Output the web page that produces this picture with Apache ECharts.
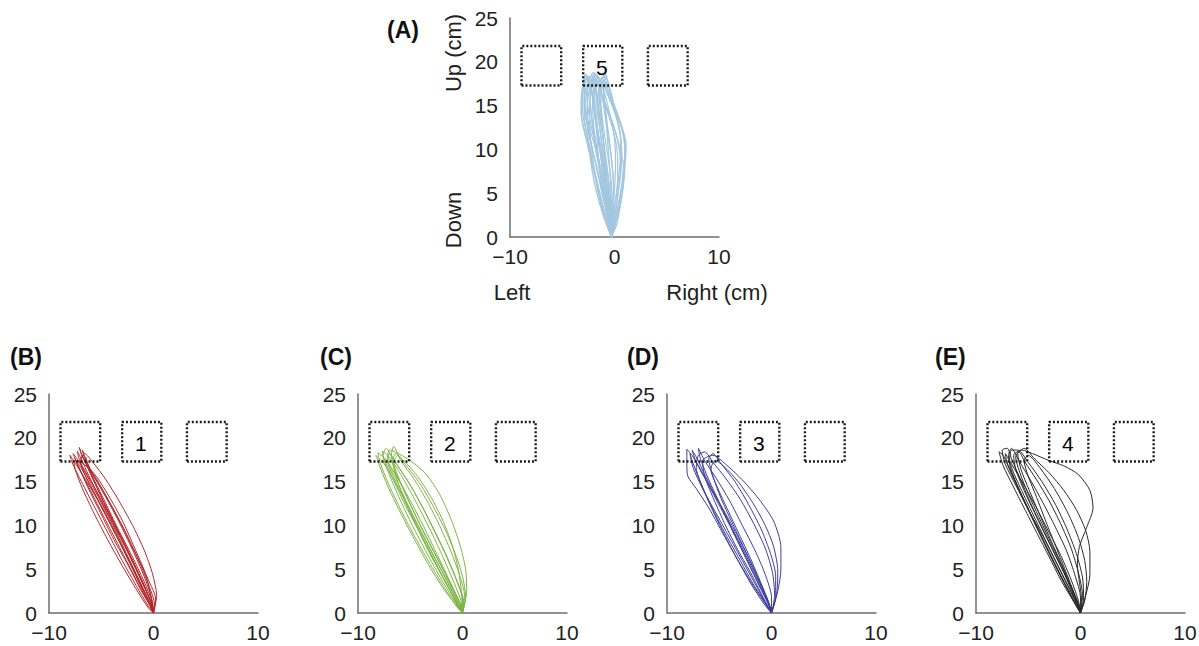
<!DOCTYPE html>
<html><head><meta charset="utf-8">
<script src="https://cdn.jsdelivr.net/npm/echarts@6/dist/echarts.min.js"></script>
<style>html,body{margin:0;padding:0;background:#fff}#c{width:1199px;height:646px}</style>
</head><body><div id="c"></div>
<script>
// ---- data ----
const panelLetters = ['(A)', '(B)', '(C)', '(D)', '(E)'];
const targetLabels = ['5', '1', '2', '3', '4'];
const yTicks = [0, 5, 10, 15, 20, 25];
const xTicks = [-10, 0, 10];
const boxX = [[-8.9, -5.1], [-3.0, 0.75], [3.2, 7.0]];
const boxY = [17.3, 21.8];
const targetLabelPos = [-1.2, 19.4];

const tracesA = [
 [[-0.2,0],[-0.6,2.0],[-1.1,4.5],[-1.6,7.5],[-2.2,10.5],[-2.7,13.5],[-2.9,16.0],[-2.7,18.0],[-2.2,18.4],[-1.8,16.5],[-1.4,13.5],[-1.0,10.5],[-0.7,7.5],[-0.4,4.5],[-0.2,2.0],[-0.2,0]],
 [[-0.3,0],[-0.1,2.5],[0.2,5.0],[0.5,8.0],[0.6,11.0],[0.2,13.5],[-0.5,15.8],[-1.2,17.6],[-1.6,18.2],[-1.9,16.8],[-1.8,14.0],[-1.5,11.0],[-1.2,8.0],[-0.9,5.0],[-0.5,2.2],[-0.3,0]],
 [[-0.3,0],[0.2,2.2],[0.6,4.8],[0.9,7.6],[1.1,9.8],[0.7,12.4],[-0.1,14.8],[-0.8,16.8],[-1.0,18.0],[-1.3,17.0],[-1.3,14.6],[-1.1,11.6],[-0.9,8.6],[-0.7,5.6],[-0.5,2.8],[-0.3,0]],
 [[-0.3,0],[-0.9,2.2],[-1.5,5.0],[-2.0,8.0],[-2.5,11.0],[-3.0,13.8],[-3.1,16.4],[-2.8,18.4],[-2.4,17.6],[-2.3,15.0],[-2.0,12.0],[-1.6,9.0],[-1.2,6.0],[-0.8,3.0],[-0.3,0]],
 [[-0.3,0],[-0.4,2.4],[-0.7,5.2],[-1.1,8.4],[-1.5,11.4],[-1.9,14.4],[-2.2,17.0],[-2.0,18.6],[-1.5,18.0],[-1.1,15.4],[-0.7,12.2],[-0.3,9.0],[-0.1,6.0],[-0.1,3.0],[-0.3,0]],
 [[-0.3,0],[0.0,2.0],[0.3,4.6],[0.6,7.2],[0.7,9.8],[0.5,12.2],[0.0,14.6],[-0.6,16.6],[-1.0,18.5],[-1.4,17.8],[-1.6,15.6],[-1.7,12.8],[-1.6,9.8],[-1.3,6.8],[-0.9,3.8],[-0.5,1.4],[-0.3,0]],
 [[-0.3,0],[-0.7,2.6],[-1.3,5.6],[-1.9,8.8],[-2.5,12.0],[-2.9,15.0],[-2.6,17.4],[-2.0,18.2],[-1.8,17.2],[-1.6,14.4],[-1.3,11.4],[-1.0,8.4],[-0.6,5.4],[-0.4,2.6],[-0.3,0]],
 [[-0.3,0],[-0.2,2.6],[0,5.4],[0.1,8.4],[0.0,11.2],[-0.4,13.8],[-0.9,16.2],[-1.4,18.0],[-1.8,18.6],[-2.2,17.0],[-2.4,14.2],[-2.3,11.2],[-2.0,8.2],[-1.6,5.2],[-1.0,2.4],[-0.3,0]],
 [[-0.3,0],[0.3,2.4],[0.8,5.4],[1.0,8.6],[0.9,11.2],[0.4,13.6],[-0.2,15.6],[-0.6,17.4],[-0.8,18.6],[-1.1,17.6],[-0.9,15.0],[-0.6,12.0],[-0.3,9.0],[-0.1,6.0],[-0.1,3.0],[-0.3,0]],
 [[-0.3,0],[-0.8,2.0],[-1.4,4.6],[-2.0,7.6],[-2.6,10.6],[-3.1,13.2],[-3.2,15.4],[-3.0,17.4],[-2.6,18.4],[-2.6,16.6],[-2.6,14.0],[-2.5,11.0],[-2.2,8.0],[-1.7,5.0],[-1.0,2.2],[-0.3,0]],
 [[-0.3,0],[-0.5,1.8],[-0.9,4.2],[-1.3,7.2],[-1.8,10.4],[-2.3,13.0],[-2.6,15.6],[-2.5,17.8],[-2.0,18.8],[-1.6,17.6],[-1.3,15.0],[-1.0,12.0],[-0.6,9.0],[-0.3,6.0],[-0.2,3.0],[-0.3,0]],
 [[-0.3,0],[0.1,1.8],[0.4,4.0],[0.8,6.4],[1.0,8.8],[1.0,11.0],[0.6,13.0],[0.0,15.0],[-0.4,16.8],[-0.9,18.4],[-1.2,18.0],[-1.0,16.0],[-0.8,13.2],[-0.6,10.0],[-0.4,6.8],[-0.3,3.4],[-0.3,0]],
 [[-0.2,0],[-0.3,1.6],[-0.6,3.4],[-1.0,5.8],[-1.4,8.2],[-2.0,10.8],[-2.5,13.0],[-2.8,15.2],[-2.6,16.8],[-2.3,18.2],[-1.9,17.4],[-1.7,15.6],[-1.5,13.2],[-1.2,10.6],[-0.9,8.0],[-0.6,5.4],[-0.4,2.8],[-0.2,0]],
 [[-0.3,0],[0.1,2.8],[0.4,5.8],[0.6,8.2],[0.4,10.4],[0.0,12.4],[-0.6,14.4],[-1.2,16.2],[-1.5,17.8],[-1.9,17.2],[-2.1,15.2],[-2.0,12.8],[-1.7,10.2],[-1.3,7.6],[-0.9,4.8],[-0.5,2.0],[-0.3,0]],
 [[-0.3,0],[-0.6,1.4],[-1.2,3.8],[-1.7,6.4],[-2.3,9.2],[-2.8,11.8],[-3.2,14.2],[-3.0,16.6],[-2.8,18.6],[-2.4,18.0],[-2.1,16.2],[-1.8,13.6],[-1.4,10.8],[-1.0,7.8],[-0.6,4.8],[-0.3,2.0],[-0.3,0]],
 [[-0.2,0],[0.0,1.6],[0.4,3.8],[0.7,6.0],[0.9,8.4],[1.1,10.6],[0.8,12.2],[0.3,13.8],[-0.3,15.6],[-0.7,17.0],[-1.2,18.2],[-1.5,17.2],[-1.4,15.0],[-1.2,12.6],[-1.0,10.0],[-0.8,7.2],[-0.5,4.4],[-0.3,1.6],[-0.2,0]],
 [[-0.3,0],[-0.5,2.2],[-1.0,4.8],[-1.5,7.0],[-2.0,9.4],[-2.4,11.8],[-2.6,14.2],[-2.5,16.2],[-2.1,17.8],[-1.7,16.6],[-1.5,14.6],[-1.2,12.2],[-0.9,9.6],[-0.6,7.0],[-0.4,4.4],[-0.3,2.0],[-0.3,0]],
 [[-0.3,0],[0.2,1.4],[0.5,3.2],[0.8,5.6],[0.9,7.4],[0.7,9.2],[0.2,11.6],[-0.4,13.6],[-1.0,15.6],[-1.6,17.4],[-2.0,18.4],[-2.3,17.2],[-2.3,15.0],[-2.1,12.6],[-1.8,10.0],[-1.4,7.4],[-1.0,4.8],[-0.6,2.2],[-0.3,0]],
 [[-0.3,0],[-0.7,1.8],[-1.1,3.6],[-1.6,6.0],[-2.1,8.6],[-2.6,11.4],[-2.9,13.8],[-2.9,16.0],[-2.5,17.4],[-2.1,16.0],[-1.9,13.8],[-1.6,11.2],[-1.2,8.4],[-0.8,5.6],[-0.5,3.0],[-0.3,0]],
 [[-0.2,0],[-0.1,2.0],[0.1,4.2],[0.3,6.6],[0.3,9.0],[0.0,11.6],[-0.6,14.0],[-1.2,16.0],[-1.7,17.6],[-2.1,18.0],[-2.0,16.2],[-1.8,13.8],[-1.5,11.2],[-1.2,8.6],[-0.9,6.0],[-0.6,3.4],[-0.4,1.2],[-0.2,0]]
];

const tracesB = [
 [[0,0],[-0.5,1.5],[-1.4,3.8],[-2.6,6.8],[-3.8,9.8],[-5.0,12.6],[-6.2,15.3],[-7.2,17.4],[-7.7,18.2],[-7.3,17.0],[-6.3,14.6],[-5.1,11.8],[-3.9,9.0],[-2.6,6.0],[-1.4,3.2],[-0.4,1.0],[0,0]],
 [[0,0],[-0.2,1.8],[-0.9,4.2],[-2.0,7.2],[-3.3,10.4],[-4.6,13.3],[-5.8,15.8],[-6.8,17.8],[-7.1,18.9],[-6.9,18.2],[-6.0,15.8],[-4.8,12.8],[-3.5,9.6],[-2.2,6.4],[-1.0,3.4],[-0.2,1.0],[0,0]],
 [[0,0],[0.3,2.0],[-0.1,4.5],[-0.9,7.2],[-2.0,10.0],[-3.3,12.8],[-4.6,15.3],[-5.8,17.2],[-6.6,18.2],[-7.0,17.3],[-6.5,15.6],[-5.6,13.5],[-4.5,11.0],[-3.3,8.2],[-2.0,5.0],[-0.8,2.0],[0,0]],
 [[0,0],[-0.4,1.2],[-1.3,3.4],[-2.5,6.4],[-3.9,9.6],[-5.3,12.8],[-6.7,15.6],[-7.7,17.5],[-8.0,18.0],[-7.8,17.2],[-6.9,15.0],[-5.6,12.0],[-4.3,9.0],[-3.0,6.0],[-1.6,3.0],[-0.5,0.8],[0,0]],
 [[0,0],[0.2,1.6],[-0.5,3.8],[-1.5,6.3],[-2.7,9.3],[-3.9,12.0],[-5.2,14.8],[-6.3,17.0],[-6.8,18.6],[-6.6,17.6],[-5.8,15.5],[-4.6,12.6],[-3.4,9.6],[-2.1,6.6],[-0.9,3.6],[-0.1,1.2],[0,0]],
 [[0,0],[-0.3,1.4],[-1.1,3.6],[-2.2,6.5],[-3.5,9.5],[-4.8,12.5],[-6.0,15.1],[-7.0,17.2],[-7.3,18.5],[-7.0,17.8],[-6.2,15.7],[-5.1,13.0],[-3.8,10.0],[-2.5,7.0],[-1.3,4.0],[-0.3,1.4],[0,0]],
 [[0,0],[-0.6,1.8],[-1.7,4.5],[-3.0,7.6],[-4.3,10.7],[-5.6,13.6],[-6.8,16.3],[-7.5,17.6],[-7.2,16.8],[-6.3,14.4],[-5.1,11.5],[-3.8,8.4],[-2.4,5.4],[-1.2,2.6],[-0.2,0.6],[0,0]],
 [[0,0],[0.1,1.0],[-0.4,3.0],[-1.2,5.4],[-2.3,8.2],[-3.6,11.3],[-4.9,14.0],[-6.0,16.2],[-6.5,17.8],[-6.4,17.0],[-5.6,14.8],[-4.5,12.0],[-3.3,9.2],[-2.0,6.0],[-0.9,3.2],[-0.1,0.8],[0,0]],
 [[0,0],[-0.3,2.2],[-0.8,4.6],[-1.8,7.4],[-3.0,10.6],[-4.3,13.4],[-5.6,15.8],[-6.9,17.2],[-7.6,17.4],[-7.5,16.4],[-6.8,14.2],[-5.7,11.4],[-4.4,8.4],[-3.0,5.4],[-1.7,2.8],[-0.5,0.6],[0,0]]
];

const tracesC = [
 [[0,0],[0.4,2.5],[0.3,5.0],[-0.3,8.0],[-1.2,11.0],[-2.3,13.8],[-3.6,16.0],[-5.0,17.4],[-6.3,18.3],[-7.0,18.6],[-7.2,17.5],[-6.6,15.5],[-5.6,13.0],[-4.4,10.0],[-3.0,6.6],[-1.6,3.4],[-0.4,0.8],[0,0]],
 [[0,0],[0,1.5],[-0.6,3.8],[-1.6,6.6],[-2.8,9.6],[-4.0,12.5],[-5.3,15.2],[-6.6,17.5],[-7.3,18.8],[-7.6,18.0],[-7.0,15.8],[-6.0,13.0],[-4.8,10.0],[-3.4,6.8],[-2.0,3.8],[-0.7,1.2],[0,0]],
 [[0,0],[-0.3,1.3],[-1.2,3.6],[-2.4,6.6],[-3.6,9.6],[-4.9,12.6],[-6.2,15.4],[-7.4,17.6],[-8.1,18.3],[-7.9,17.2],[-7.1,14.8],[-6.0,12.0],[-4.7,9.0],[-3.2,5.8],[-1.8,3.0],[-0.6,0.8],[0,0]],
 [[0,0],[0.2,2.0],[-0.3,4.4],[-1.1,7.0],[-2.2,10.0],[-3.4,12.8],[-4.7,15.4],[-5.9,17.4],[-6.6,19.0],[-6.8,18.0],[-6.3,16.0],[-5.3,13.2],[-4.1,10.2],[-2.8,7.2],[-1.5,4.2],[-0.4,1.4],[0,0]],
 [[0,0],[-0.2,1.6],[-1.0,4.0],[-2.1,7.0],[-3.3,10.0],[-4.6,13.0],[-5.9,15.8],[-7.0,17.8],[-7.7,18.5],[-7.5,17.6],[-6.7,15.4],[-5.6,12.6],[-4.3,9.6],[-3.0,6.5],[-1.6,3.5],[-0.5,1.0],[0,0]],
 [[0,0],[0.3,1.8],[0,4.2],[-0.7,6.8],[-1.7,9.6],[-2.9,12.4],[-4.2,15.0],[-5.5,17.0],[-6.4,18.2],[-6.7,17.2],[-6.0,15.0],[-5.0,12.4],[-3.8,9.4],[-2.5,6.4],[-1.2,3.4],[-0.2,1.0],[0,0]],
 [[0,0],[-0.4,1.0],[-1.4,3.4],[-2.6,6.2],[-3.9,9.2],[-5.2,12.2],[-6.5,15.0],[-7.6,17.2],[-8.3,18.0],[-8.0,17.0],[-7.2,14.6],[-6.0,11.6],[-4.6,8.4],[-3.1,5.2],[-1.6,2.4],[-0.4,0.6],[0,0]],
 [[0,0],[0.1,1.4],[-0.5,3.6],[-1.4,6.2],[-2.5,9.0],[-3.7,11.8],[-5.0,14.6],[-6.2,16.8],[-7.0,18.2],[-7.1,17.4],[-6.4,15.4],[-5.4,12.8],[-4.2,9.8],[-2.9,6.8],[-1.5,3.8],[-0.4,1.2],[0,0]],
 [[0,0],[-0.1,2.4],[-0.4,5.0],[-1.0,7.8],[-1.9,10.6],[-3.0,13.2],[-4.3,15.6],[-5.6,17.4],[-6.2,18.0],[-6.6,17.0],[-6.2,15.0],[-5.3,12.2],[-4.0,9.0],[-2.6,5.8],[-1.3,2.8],[-0.3,0.6],[0,0]]
];

const tracesD = [
 [[0,0],[0.6,2.5],[0.9,5.0],[0.9,7.5],[0.2,10.5],[-1.2,13.0],[-2.8,15.2],[-4.4,17.0],[-5.6,18.0],[-6.6,17.4],[-6.4,15.6],[-5.6,13.2],[-4.6,10.5],[-3.4,7.6],[-2.0,4.6],[-0.8,1.8],[0,0]],
 [[0,0],[-0.8,1.4],[-2.0,3.6],[-3.4,6.4],[-4.8,9.4],[-6.0,12.0],[-7.2,14.2],[-8.0,15.6],[-8.1,17.0],[-8.1,18.7],[-7.6,18.0],[-6.6,16.0],[-5.4,13.2],[-4.0,10.0],[-2.6,6.6],[-1.2,3.2],[-0.2,0.8],[0,0]],
 [[0,0],[0.3,2.0],[0.1,4.6],[-0.6,7.4],[-1.7,10.2],[-3.0,13.0],[-4.4,15.4],[-5.6,17.2],[-6.4,18.4],[-7.0,18.0],[-7.2,16.6],[-6.6,14.4],[-5.6,11.8],[-4.4,9.0],[-3.0,6.0],[-1.6,3.0],[-0.4,0.8],[0,0]],
 [[0,0],[-0.4,1.6],[-1.3,4.0],[-2.4,6.8],[-3.6,9.6],[-4.9,12.4],[-6.2,15.0],[-7.2,17.2],[-7.6,18.6],[-7.2,17.8],[-6.3,15.6],[-5.2,13.0],[-4.0,10.2],[-2.7,7.2],[-1.4,4.0],[-0.3,1.2],[0,0]],
 [[0,0],[0.4,1.8],[0.4,4.2],[-0.1,6.8],[-1.0,9.6],[-2.2,12.4],[-3.5,15.0],[-4.8,17.0],[-5.6,18.2],[-6.0,17.6],[-5.6,15.6],[-4.8,13.0],[-3.8,10.4],[-2.7,7.6],[-1.6,4.8],[-0.6,2.0],[0,0]],
 [[0,0],[-0.6,1.2],[-1.6,3.4],[-2.8,6.0],[-4.1,8.8],[-5.4,11.6],[-6.6,14.2],[-7.5,16.6],[-7.8,18.2],[-7.6,17.4],[-6.9,15.2],[-5.9,12.4],[-4.7,9.4],[-3.4,6.4],[-2.0,3.4],[-0.7,1.0],[0,0]],
 [[0,0],[0,1.8],[-0.6,4.4],[-1.6,7.2],[-2.8,10.0],[-4.0,12.8],[-5.3,15.4],[-6.4,17.4],[-7.0,18.8],[-6.8,17.6],[-6.0,15.2],[-4.9,12.4],[-3.7,9.4],[-2.4,6.2],[-1.2,3.2],[-0.2,0.8],[0,0]],
 [[0,0],[0.5,2.2],[0.6,4.8],[0.2,7.6],[-0.6,10.0],[-1.8,12.6],[-3.2,15.0],[-4.6,16.8],[-5.4,17.4],[-5.8,16.4],[-5.2,14.4],[-4.2,11.8],[-3.1,9.0],[-2.0,6.2],[-1.0,3.4],[-0.2,1.0],[0,0]]
];

const tracesE = [
 [[0,0],[0.1,1.5],[-0.1,3.5],[-0.3,5.5],[-0.1,7.6],[0.6,9.8],[1.2,12.0],[0.9,14.0],[-0.2,15.8],[-1.6,16.8],[-3.0,17.4],[-4.6,18.2],[-5.6,18.6],[-6.4,18.0],[-6.2,16.4],[-5.4,14.0],[-4.3,11.2],[-3.0,8.0],[-1.6,4.6],[-0.5,1.6],[0,0]],
 [[0,0],[0.5,2.0],[0.9,4.4],[0.9,7.0],[0.5,9.4],[-0.4,11.8],[-1.6,14.0],[-3.0,16.0],[-4.4,17.6],[-5.4,18.8],[-6.0,18.2],[-5.7,16.4],[-4.9,14.0],[-3.9,11.2],[-2.8,8.2],[-1.6,5.0],[-0.5,1.8],[0,0]],
 [[0,0],[-0.7,1.4],[-1.8,3.6],[-3.0,6.4],[-4.2,9.2],[-5.4,12.0],[-6.5,14.6],[-7.4,16.8],[-7.8,18.4],[-7.4,18.0],[-6.6,16.0],[-5.6,13.4],[-4.4,10.4],[-3.1,7.2],[-1.8,4.0],[-0.6,1.2],[0,0]],
 [[0,0],[0,1.8],[-0.5,4.2],[-1.3,7.0],[-2.4,9.8],[-3.6,12.6],[-4.8,15.2],[-5.9,17.4],[-6.6,18.8],[-6.9,18.0],[-6.4,16.0],[-5.4,13.4],[-4.2,10.4],[-2.9,7.2],[-1.6,4.0],[-0.4,1.2],[0,0]],
 [[0,0],[0.3,1.6],[0.2,4.0],[-0.4,6.8],[-1.3,9.6],[-2.4,12.4],[-3.7,15.0],[-5.0,17.2],[-6.0,18.6],[-6.6,18.6],[-6.8,17.2],[-6.2,15.0],[-5.2,12.4],[-4.0,9.4],[-2.7,6.2],[-1.4,3.2],[-0.3,0.8],[0,0]],
 [[0,0],[-0.4,1.2],[-1.3,3.4],[-2.5,6.2],[-3.7,9.0],[-5.0,11.8],[-6.2,14.6],[-7.2,17.0],[-7.5,18.6],[-7.0,18.8],[-6.6,17.6],[-5.8,15.4],[-4.8,12.6],[-3.6,9.6],[-2.3,6.4],[-1.0,3.2],[-0.1,0.8],[0,0]],
 [[0,0],[0.2,2.0],[-0.2,4.6],[-0.9,7.4],[-1.9,10.2],[-3.0,12.8],[-4.2,15.2],[-5.3,17.2],[-5.9,18.4],[-6.2,17.8],[-5.8,16.0],[-5.0,13.6],[-4.0,11.0],[-2.9,8.2],[-1.8,5.4],[-0.7,2.4],[0,0]],
 [[0,0],[-0.2,1.4],[-0.9,3.8],[-1.9,6.6],[-3.1,9.4],[-4.3,12.2],[-5.5,14.8],[-6.6,17.0],[-7.2,18.2],[-7.0,17.0],[-6.2,14.8],[-5.1,12.0],[-3.9,9.0],[-2.6,5.8],[-1.3,2.8],[-0.3,0.6],[0,0]],
 [[0,0],[0.4,1.4],[0.6,3.6],[0.4,6.0],[-0.2,8.6],[-1.2,11.4],[-2.5,14.2],[-3.9,16.6],[-5.0,18.0],[-5.4,17.4],[-5.0,15.6],[-4.2,13.2],[-3.3,10.4],[-2.3,7.4],[-1.3,4.4],[-0.4,1.6],[0,0]]
];

const panelTraces = [tracesA, tracesB, tracesC, tracesD, tracesE];
const panelColors = ['#a3c7df', '#b2272b', '#7db444', '#3d3d9b', '#2a2a2a'];

// ---- layout ----
const FONT = "'Liberation Sans', Arial, Helvetica, sans-serif";
const grids = [
  {left: 510, top: 18, width: 209, height: 219},
  {left: 49, top: 394, width: 209, height: 219},
  {left: 358, top: 394, width: 209, height: 219},
  {left: 667, top: 394, width: 209, height: 219},
  {left: 976, top: 394, width: 209, height: 219}
];
const letterPos = [[387, 18], [10, 345], [320, 345], [627, 345], [935, 345]];

const axisLineStyle = {color: '#6e6e6e', width: 1.5};
const xAxes = [], yAxes = [], series = [];
grids.forEach((g, i) => {
  g.outerBoundsMode = 'none';
  g.containLabel = false;
  xAxes.push({
    type: 'value', gridIndex: i, min: xTicks[0], max: xTicks[xTicks.length - 1], interval: xTicks[1] - xTicks[0],
    axisLine: {show: true, onZero: false, lineStyle: axisLineStyle},
    axisTick: {show: false}, splitLine: {show: false},
    axisLabel: {color: '#222', fontSize: 21, fontFamily: FONT, margin: 9,
      formatter: v => String(v).replace('-', '\u2212')}
  });
  yAxes.push({
    type: 'value', gridIndex: i, min: yTicks[0], max: yTicks[yTicks.length - 1], interval: yTicks[1] - yTicks[0],
    axisLine: {show: true, onZero: false, lineStyle: axisLineStyle},
    axisTick: {show: false}, splitLine: {show: false},
    axisLabel: {color: '#222', fontSize: 21, fontFamily: FONT, margin: 12}
  });
  // trajectories
  panelTraces[i].forEach(t => {
    series.push({
      type: 'line', xAxisIndex: i, yAxisIndex: i, data: t,
      symbol: 'none', smooth: 0.25, silent: true, z: 2,
      lineStyle: {color: panelColors[i], width: i === 0 ? 1.2 : 1}
    });
  });
  // target boxes
  boxX.forEach(bx => {
    series.push({
      type: 'line', xAxisIndex: i, yAxisIndex: i, symbol: 'none', silent: true, z: 5,
      data: [[bx[0], boxY[0]], [bx[1], boxY[0]], [bx[1], boxY[1]], [bx[0], boxY[1]], [bx[0], boxY[0]]],
      lineStyle: {color: '#1a1a1a', width: 2.4, type: [2, 2], cap: 'butt'}
    });
  });
  // target number
  series.push({
    type: 'scatter', xAxisIndex: i, yAxisIndex: i, symbolSize: 1, silent: true, z: 6,
    itemStyle: {color: 'rgba(0,0,0,0)'},
    data: [targetLabelPos],
    label: {show: true, position: 'inside', formatter: targetLabels[i], fontSize: 21,
      color: '#000', opacity: 1, textBorderWidth: 0, textBorderColor: 'transparent', fontFamily: FONT}
  });
});

const graphic = panelLetters.map((t, i) => ({
  type: 'text', left: letterPos[i][0], top: letterPos[i][1],
  style: {text: t, fontSize: 23, fontWeight: 'bold', fill: '#111', fontFamily: FONT}
}));
graphic.push(
  {type: 'text', x: 453, y: 53, rotation: Math.PI / 2,
   style: {text: 'Up (cm)', fontSize: 22, fill: '#222', fontFamily: FONT, align: 'center', verticalAlign: 'middle'}},
  {type: 'text', x: 453, y: 220, rotation: Math.PI / 2,
   style: {text: 'Down', fontSize: 22, fill: '#222', fontFamily: FONT, align: 'center', verticalAlign: 'middle'}},
  {type: 'text', x: 512, y: 292,
   style: {text: 'Left', fontSize: 22, fill: '#222', fontFamily: FONT, align: 'center', verticalAlign: 'middle'}},
  {type: 'text', x: 717, y: 292,
   style: {text: 'Right (cm)', fontSize: 22, fill: '#222', fontFamily: FONT, align: 'center', verticalAlign: 'middle'}}
);

const chart = echarts.init(document.getElementById('c'), null, {renderer: 'svg', width: 1199, height: 646});
chart.setOption({
  animation: false,
  backgroundColor: '#fff',
  grid: grids, xAxis: xAxes, yAxis: yAxes, series: series, graphic: graphic
});
</script></body></html>
